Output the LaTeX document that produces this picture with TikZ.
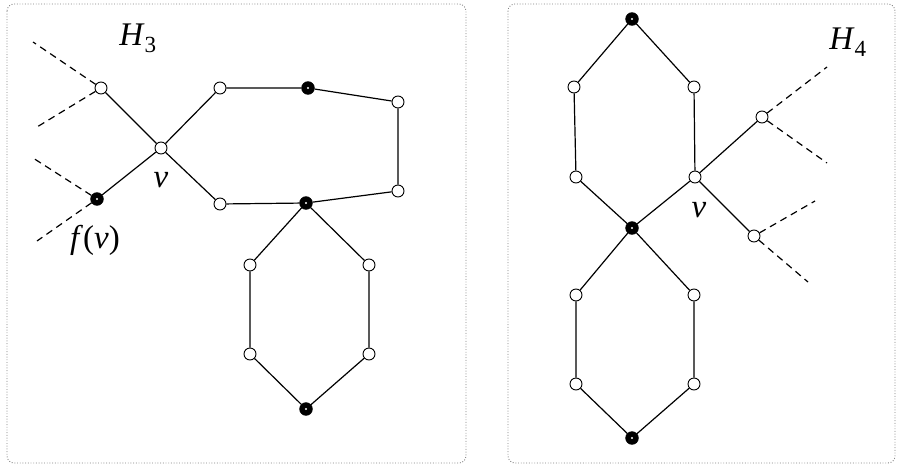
\documentclass[tikz,border=0pt]{standalone}
\usepackage{fontspec}
\setmainfont{Liberation Serif}
\begin{document}
\begin{tikzpicture}[x=1pt,y=-1pt,
  wn/.style={circle,draw=black,fill=white,line width=0.9pt,inner sep=0pt,minimum size=12pt},
  bn/.style={circle,draw=black,fill=black,line width=0.9pt,inner sep=0pt,minimum size=12.5pt,
    path picture={\fill[white] (path picture bounding box.center) circle (1.1pt);}},
  edge/.style={line width=1.2pt},
  dedge/.style={line width=1.2pt,dash pattern=on 7pt off 5pt},
  frame/.style={draw=gray,line width=0.9pt,dash pattern=on 0.9pt off 1.8pt,rounded corners=7pt},
  lab/.style={font=\fontsize{33}{36}\selectfont,inner sep=0pt}]
\useasboundingbox (0,0) rectangle (902,466);
\draw[frame] (7,4) rectangle (466,463);
\draw[frame] (508,4) rectangle (895,463);
% left graph
\node[wn] (a1) at (101,88) {};
\node[wn] (v) at (161,148) {};
\node[bn] (fv) at (97,199) {};
\node[wn] (t1) at (220,88) {};
\node[bn] (t2) at (308,88) {};
\node[wn] (t3) at (398,102) {};
\node[wn] (t4) at (398,191) {};
\node[bn] (t5) at (306,203) {};
\node[wn] (t6) at (220,204) {};
\node[wn] (h1) at (250,265) {};
\node[wn] (h2) at (369,265) {};
\node[wn] (h3) at (250,354) {};
\node[wn] (h4) at (369,354) {};
\node[bn] (hb) at (306,409) {};
\coordinate (d1) at (33,42);
\coordinate (d2) at (37,127);
\coordinate (d3) at (33,158);
\coordinate (d4) at (37,241);
\draw[edge] (a1)--(v) (v)--(fv) (v)--(t1) (v)--(t6) (t1)--(t2) (t2)--(t3) (t3)--(t4) (t4)--(t5) (t5)--(t6)
  (t5)--(h1) (t5)--(h2) (h1)--(h3) (h2)--(h4) (h3)--(hb) (h4)--(hb);
\draw[dedge] (a1)--(d1) (a1)--(d2) (fv)--(d3) (fv)--(d4);
\node[lab] (H3) at (138,38) {\textit{H}\textsubscript{3}};
\node[lab] (vl) at (161,180) {\textit{v}};
\node[lab] (fvl) at (95,240) {\textit{f}(\textit{v})};
% right graph
\node[bn] (top) at (632,19) {};
\node[wn] (ul) at (574,87) {};
\node[wn] (ur) at (694,87) {};
\node[wn] (ll) at (576,177) {};
\node[wn] (v2) at (695,177) {};
\node[bn] (mid) at (632,228) {};
\node[wn] (lul) at (576,295) {};
\node[wn] (lur) at (694,295) {};
\node[wn] (lll) at (576,384) {};
\node[wn] (llr) at (694,384) {};
\node[bn] (bot) at (632,438) {};
\node[wn] (r1) at (762,117) {};
\node[wn] (r2) at (754,236) {};
\coordinate (e1) at (827,67);
\coordinate (e2) at (827,163);
\coordinate (e3) at (815,201);
\coordinate (e4) at (808,282);
\draw[edge] (top)--(ul) (top)--(ur) (ul)--(ll) (ur)--(v2) (ll)--(mid) (v2)--(mid)
  (mid)--(lul) (mid)--(lur) (lul)--(lll) (lur)--(llr) (lll)--(bot) (llr)--(bot)
  (v2)--(r1) (v2)--(r2);
\draw[dedge] (r1)--(e1) (r1)--(e2) (r2)--(e3) (r2)--(e4);
\node[lab] (H4) at (848,42) {\textit{H}\textsubscript{4}};
\node[lab] (vr) at (699,210) {\textit{v}};
\end{tikzpicture}
\end{document}
